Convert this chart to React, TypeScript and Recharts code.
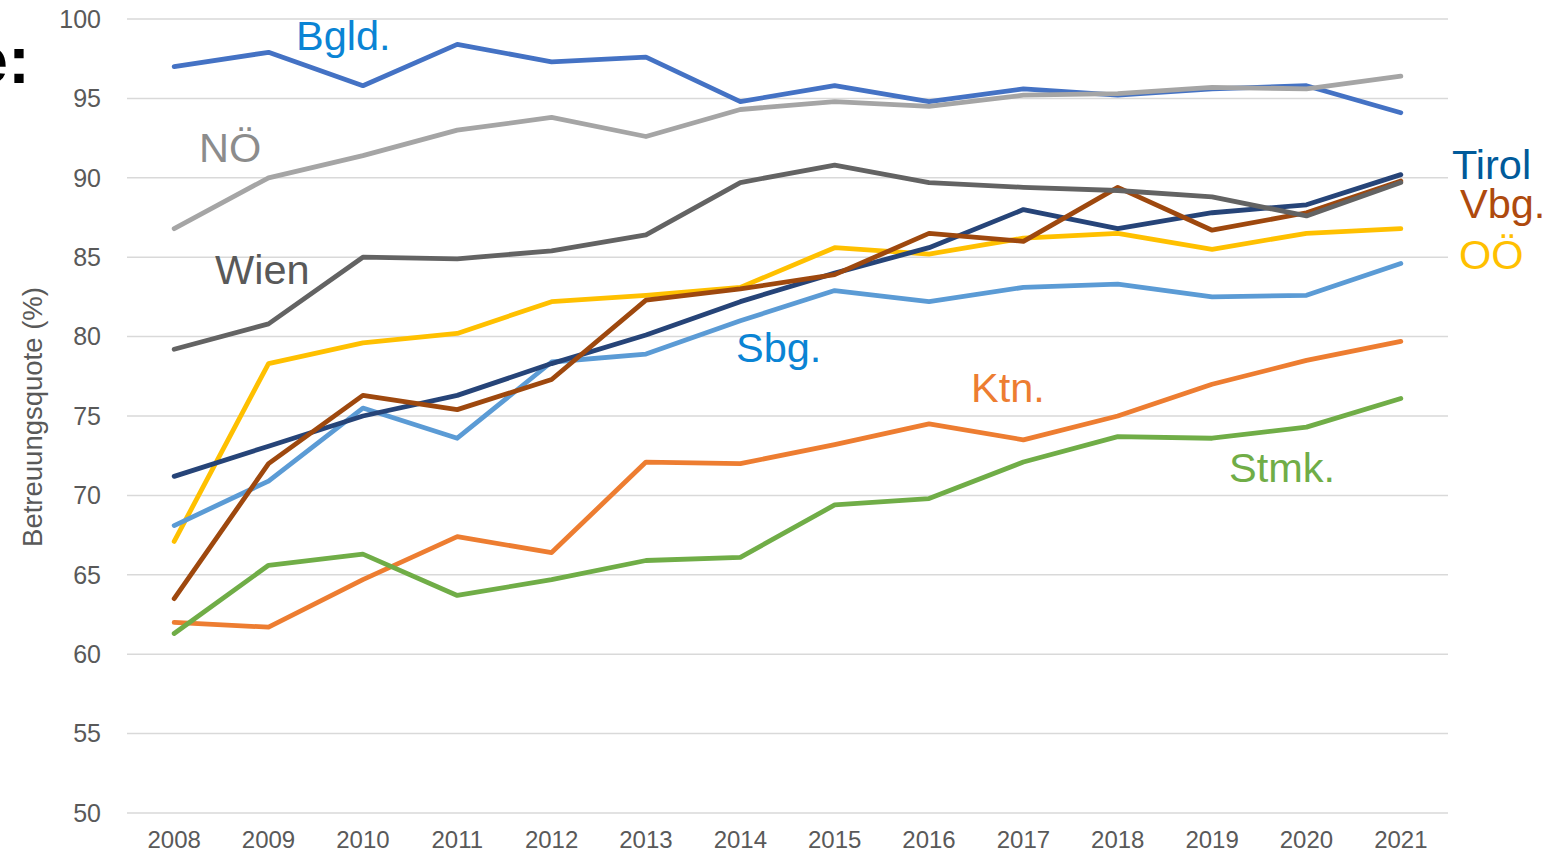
import React from "react";
import { LineChart, Line, XAxis, YAxis, CartesianGrid } from "recharts";

const years = [2008, 2009, 2010, 2011, 2012, 2013, 2014, 2015, 2016, 2017, 2018, 2019, 2020, 2021];
const yTicks = [50, 55, 60, 65, 70, 75, 80, 85, 90, 95, 100];

const bgld = [97.0, 97.9, 95.8, 98.4, 97.3, 97.6, 94.8, 95.8, 94.8, 95.6, 95.2, 95.6, 95.8, 94.1];
const ktn = [62.0, 61.7, 64.7, 67.4, 66.4, 72.1, 72.0, 73.2, 74.5, 73.5, 75.0, 77.0, 78.5, 79.7];
const noe = [86.8, 90.0, 91.4, 93.0, 93.8, 92.6, 94.3, 94.8, 94.5, 95.2, 95.3, 95.7, 95.6, 96.4];
const ooe = [67.1, 78.3, 79.6, 80.2, 82.2, 82.6, 83.1, 85.6, 85.2, 86.2, 86.5, 85.5, 86.5, 86.8];
const sbg = [68.1, 70.9, 75.5, 73.6, 78.4, 78.9, 81.0, 82.9, 82.2, 83.1, 83.3, 82.5, 82.6, 84.6];
const stmk = [61.3, 65.6, 66.3, 63.7, 64.7, 65.9, 66.1, 69.4, 69.8, 72.1, 73.7, 73.6, 74.3, 76.1];
const tirol = [71.2, 73.1, 75.0, 76.3, 78.3, 80.1, 82.2, 84.0, 85.6, 88.0, 86.8, 87.8, 88.3, 90.2];
const vbg = [63.5, 72.0, 76.3, 75.4, 77.3, 82.3, 83.0, 83.9, 86.5, 86.0, 89.4, 86.7, 87.8, 89.8];
const wien = [79.2, 80.8, 85.0, 84.9, 85.4, 86.4, 89.7, 90.8, 89.7, 89.4, 89.2, 88.8, 87.6, 89.7];

const seriesKeys = ["Bgld", "Ktn", "NOE", "OOE", "Sbg", "Stmk", "Tirol", "Vbg", "Wien"];
const seriesValues = [bgld, ktn, noe, ooe, sbg, stmk, tirol, vbg, wien];
const seriesColors = ["#4472C4", "#ED7D31", "#A5A5A5", "#FFC000", "#5B9BD5", "#70AD47", "#264478", "#9E480E", "#636363"];

const data = years.map((year, i) => {
  const row: Record<string, number> = { year };
  seriesKeys.forEach((k, j) => {
    row[k] = seriesValues[j][i];
  });
  return row;
});

const FONT = "'Liberation Sans', Arial, Helvetica, sans-serif";

const labels = [
  { text: "Bgld.", x: 296, y: 50, color: "#0A84D4" },
  { text: "NÖ", x: 199, y: 162, color: "#8C8C8C" },
  { text: "Wien", x: 215, y: 284, color: "#595959" },
  { text: "Sbg.", x: 736, y: 362, color: "#0A84D4" },
  { text: "Ktn.", x: 971, y: 402, color: "#ED7D31" },
  { text: "Stmk.", x: 1229, y: 482, color: "#70AD47" },
  { text: "Tirol", x: 1452, y: 179, color: "#005A9A" },
  { text: "Vbg.", x: 1460, y: 218, color: "#AE4A0E" },
  { text: "OÖ", x: 1459, y: 269, color: "#FFC000" },
];

export default function App() {
  return (
    <div style={{ position: "absolute", left: 0, top: 0, width: 1565, height: 855, background: "#fff" }}>
      <LineChart
        width={1565}
        height={855}
        data={data}
        margin={{ top: 19, right: 117, bottom: 12, left: 67 }}
      >
        <CartesianGrid horizontal vertical={false} stroke="#D9D9D9" strokeWidth={1.5} />
        <XAxis
          dataKey="year"
          type="number"
          domain={[2007.5, 2021.5]}
          ticks={years}
          interval={0}
          axisLine={false}
          tickLine={false}
          tickSize={0}
          tickMargin={18}
          height={30}
          tick={{ fill: "#595959", fontSize: 24, fontFamily: FONT }}
        />
        <YAxis
          type="number"
          domain={[50, 100]}
          ticks={yTicks}
          interval={0}
          axisLine={false}
          tickLine={false}
          tickSize={0}
          tickMargin={26}
          width={60}
          tick={{ fill: "#595959", fontSize: 25, fontFamily: FONT }}
        />
        {seriesKeys.map((k, j) => (
          <Line
            key={k}
            dataKey={k}
            type="linear"
            stroke={seriesColors[j]}
            strokeWidth={4.8}
            dot={false}
            activeDot={false}
            strokeLinecap="round"
            strokeLinejoin="round"
            isAnimationActive={false}
          />
        ))}
      </LineChart>
      <svg
        width={1565}
        height={855}
        style={{ position: "absolute", left: 0, top: 0, pointerEvents: "none" }}
      >
        <text x={30} y={83} textAnchor="end" fontFamily={FONT} fontWeight="bold" fontSize={66} fill="#000">
          e:
        </text>
        <text
          transform="translate(42, 417) rotate(-90)"
          textAnchor="middle"
          fontFamily={FONT}
          fontSize={27.5}
          fill="#595959"
        >
          Betreuungsquote (%)
        </text>
        {labels.map((l) => (
          <text key={l.text} x={l.x} y={l.y} fontFamily={FONT} fontSize={41.5} fill={l.color}>
            {l.text}
          </text>
        ))}
      </svg>
    </div>
  );
}
